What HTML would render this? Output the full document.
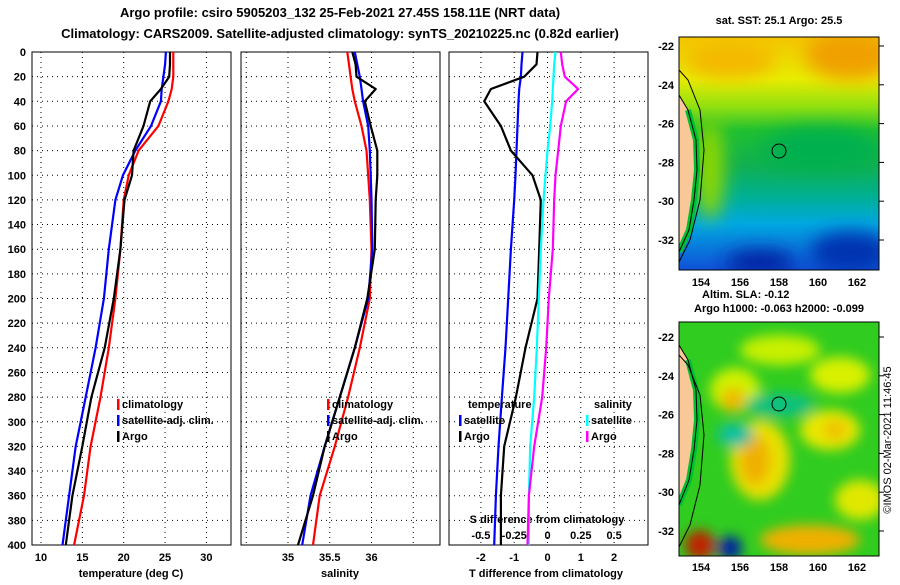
<!DOCTYPE html>
<html><head><meta charset="utf-8"><style>
body{margin:0;background:#fff;width:900px;height:580px;overflow:hidden}
svg text{font-family:"Liberation Sans",Arial,sans-serif;font-weight:bold;fill:#000}
</style></head><body>
<svg id="c" width="900" height="580" viewBox="0 0 900 580" xmlns="http://www.w3.org/2000/svg">
<defs>
<filter id="bl" x="-20%" y="-20%" width="140%" height="140%"><feGaussianBlur stdDeviation="9"/></filter>
<filter id="bl2" x="-20%" y="-20%" width="140%" height="140%"><feGaussianBlur stdDeviation="6"/></filter>
<clipPath id="m1"><rect x="679" y="37" width="200" height="233"/></clipPath>
<clipPath id="m2"><rect x="679" y="322" width="200" height="234"/></clipPath>
<linearGradient id="sst" x1="0" y1="0" x2="0" y2="1">
<stop offset="0" stop-color="#f4c400"/><stop offset="0.18" stop-color="#e8ec00"/><stop offset="0.3" stop-color="#90e010"/>
<stop offset="0.4" stop-color="#20c030"/><stop offset="0.55" stop-color="#10b050"/><stop offset="0.68" stop-color="#00b090"/><stop offset="0.8" stop-color="#00a8e0"/><stop offset="1" stop-color="#1050d8"/></linearGradient>
</defs>
<text x="340" y="17" font-size="13" text-anchor="middle">Argo profile: csiro 5905203_132 25-Feb-2021 27.45S 158.11E (NRT data)</text>
<text x="340" y="38" font-size="13" text-anchor="middle">Climatology: CARS2009. Satellite-adjusted climatology: synTS_20210225.nc (0.82d earlier)</text>
<g id="plots"></g>
<g>
<text x="779" y="24" font-size="11" text-anchor="middle">sat. SST: 25.1 Argo: 25.5</text>
<g clip-path="url(#m1)">
<rect x="679" y="37" width="200" height="233" fill="url(#sst)"/>
<g filter="url(#bl)">
<ellipse cx="850" cy="55" rx="45" ry="25" fill="#f0a000"/>
<ellipse cx="730" cy="60" rx="45" ry="18" fill="#f4b800"/>
<ellipse cx="710" cy="170" rx="14" ry="50" fill="#90d800"/>
<ellipse cx="760" cy="262" rx="35" ry="12" fill="#0020a0"/>
<ellipse cx="850" cy="252" rx="40" ry="20" fill="#0030b0"/>
<ellipse cx="820" cy="150" rx="60" ry="22" fill="#00b050"/>
</g>
<polygon points="679,95 688,110 696,140 697,170 694,200 689,230 679,252" fill="#f8c898"/>
<polyline points="688,110 696,140 697,170 694,200 689,230 679,252" fill="none" stroke="#00c030" stroke-width="6"/>
<polyline points="679,70 688,80 700,110 704,150 700,200 690,240 679,262" fill="none" stroke="#000" stroke-width="1"/>
<polyline points="679,95 688,110 696,140 697,170 694,200 689,230 679,252" fill="none" stroke="#000" stroke-width="1"/>
<circle cx="779" cy="151" r="7" fill="none" stroke="#000"/>
</g>
<rect x="679" y="37" width="200" height="233" fill="none" stroke="#000"/>
</g>
<g>
<text x="702" y="298" font-size="11">Altim. SLA: -0.12</text>
<text x="779" y="312" font-size="11" text-anchor="middle">Argo h1000: -0.063 h2000: -0.099</text>
<g clip-path="url(#m2)">
<rect x="679" y="322" width="200" height="234" fill="#30cc20"/>
<g filter="url(#bl2)">
<ellipse cx="780" cy="350" rx="40" ry="15" fill="#c8f000"/>
<ellipse cx="840" cy="375" rx="30" ry="18" fill="#d8f000"/>
<ellipse cx="735" cy="390" rx="25" ry="22" fill="#d0f000"/>
<ellipse cx="733" cy="400" rx="12" ry="12" fill="#f0b800"/>
<ellipse cx="760" cy="460" rx="30" ry="40" fill="#e8e000"/>
<ellipse cx="755" cy="460" rx="15" ry="25" fill="#f0b000"/>
<ellipse cx="830" cy="430" rx="30" ry="20" fill="#e8e800"/>
<ellipse cx="835" cy="430" rx="12" ry="10" fill="#f0c000"/>
<ellipse cx="780" cy="405" rx="35" ry="12" fill="#10c080"/>
<ellipse cx="735" cy="435" rx="18" ry="12" fill="#10c0a0"/>
<ellipse cx="810" cy="540" rx="50" ry="15" fill="#f0b000"/>
<ellipse cx="700" cy="545" rx="15" ry="15" fill="#c02000"/>
<ellipse cx="730" cy="548" rx="12" ry="12" fill="#0020a0"/>
<ellipse cx="860" cy="500" rx="25" ry="20" fill="#e0e800"/>
</g>
<polygon points="679,345 688,360 696,390 697,420 694,450 689,480 679,505" fill="#f8c898"/>
<polyline points="688,360 696,390 697,420 694,450 689,480 679,505" fill="none" stroke="#00c030" stroke-width="6"/>
<polyline points="679,355 688,365 700,395 704,435 700,485 690,525 679,547" fill="none" stroke="#000" stroke-width="1"/>
<polyline points="679,345 688,360 696,390 697,420 694,450 689,480 679,505" fill="none" stroke="#000" stroke-width="1"/>
<circle cx="779" cy="404" r="7" fill="none" stroke="#000"/>
</g>
<rect x="679" y="322" width="200" height="234" fill="none" stroke="#000"/>
</g>
<text transform="translate(891,440) rotate(-90)" font-size="11" text-anchor="middle" style="font-weight:normal">©IMOS 02-Mar-2021 11:46:45</text>
</svg>
<script>
const depths = [0,10,20,30,40,60,80,100,120,160,200,240,280,320,360,400];
const tClim = [26.0,26.0,26.0,25.8,25.4,24.2,21.8,20.6,20.0,19.6,19.0,18.2,17.2,16.0,15.2,14.0];
const tSat  = [25.1,25.0,24.8,24.6,24.5,23.3,21.4,19.9,19.0,18.2,17.6,16.6,15.4,14.2,13.4,12.6];
const tArgo = [25.6,25.6,25.5,24.5,23.2,22.4,21.2,21.0,20.1,19.6,18.8,17.7,16.1,15.0,13.8,13.0];
const sClim = [35.71,35.73,35.75,35.77,35.80,35.88,35.94,35.96,35.98,36.0,35.98,35.86,35.72,35.56,35.38,35.30];
const sSat  = [35.80,35.83,35.86,35.88,35.90,35.96,35.98,35.99,36.0,36.01,35.96,35.80,35.62,35.44,35.27,35.17];
const sArgo = [35.77,35.81,35.82,36.05,35.92,35.99,36.07,36.07,36.05,36.04,35.95,35.80,35.62,35.44,35.30,35.12];
const dtSat  = [-0.75,-0.78,-0.8,-0.85,-0.87,-0.9,-0.93,-0.96,-1.0,-1.1,-1.18,-1.26,-1.37,-1.47,-1.55,-1.6];
const dtArgo = [-0.3,-0.33,-0.7,-1.7,-1.9,-1.4,-1.1,-0.45,-0.2,-0.25,-0.3,-0.66,-0.95,-1.3,-1.4,-1.4];
const dsSat  = [0.06,0.05,0.045,0.04,0.035,0.02,0.0,-0.015,-0.03,-0.05,-0.065,-0.08,-0.1,-0.13,-0.14,-0.14];
const dsArgo = [0.1,0.11,0.13,0.23,0.14,0.1,0.08,0.06,0.05,0.04,0.01,-0.01,-0.04,-0.1,-0.14,-0.15];
const depthTicks = [0,20,40,60,80,100,120,140,160,180,200,220,240,260,280,300,320,340,360,380,400];
const tTicks = [10,15,20,25,30];
const sTicks = [35,35.5,36];
const dtTicks = [-2,-1,0,1,2];
const dsTicks = ["-0.5","-0.25","0","0.25","0.5"];
const latTicks=[-22,-24,-26,-28,-30,-32];
const lonTicks=[154,156,158,160,162];

const NS="http://www.w3.org/2000/svg";
const root=document.getElementById('plots');
const Y0=52,Y1=545;
const yS=d=>Y0+(d/400)*(Y1-Y0);
function el(tag,attrs,parent,txt){const e=document.createElementNS(NS,tag);for(const k in attrs)e.setAttribute(k,attrs[k]);if(txt!==undefined)e.textContent=txt;(parent||root).appendChild(e);return e;}
const xT=t=>41+(t-10)*8.27;
const xS=s=>288+(s-35)*83.5;
const xDT=t=>547.5+t*33.3;
const xDS=s=>547.5+s*133.2;
const panels=[{x:32,name:'temperature-panel'},{x:241,name:'salinity-panel'},{x:449,name:'difference-panel'}];
panels.forEach((p,i)=>{
  const g=el('g',{});
  
  
  depthTicks.forEach(d=>{
    if(d>0&&d<400){const l=el('line',{x1:p.x,x2:p.x+199,y1:yS(d),y2:yS(d),stroke:'#000','stroke-dasharray':'1,4'},g);
    
    }
  });
  const vx = i==0?tTicks.map(xT):i==1?[xS(34.5),...sTicks.map(xS),xS(36.5)]:dtTicks.map(xDT);
  vx.forEach(x=>{const l=el('line',{x1:x,x2:x,y1:Y0,y2:Y1,stroke:'#000','stroke-dasharray':'1,4'},g);
    
    });
  const r=el('rect',{x:p.x,y:Y0,width:199,height:Y1-Y0,fill:'none',stroke:'#000'},g);
  
  
});
depthTicks.forEach(d=>{const t=el('text',{x:26,y:yS(d)+4,'font-size':11,'text-anchor':'end'},root,String(d));
  
  });
tTicks.forEach(v=>{const t=el('text',{x:xT(v),y:561,'font-size':11,'text-anchor':'middle'},root,String(v));
  
  });
sTicks.forEach(v=>{const t=el('text',{x:xS(v),y:561,'font-size':11,'text-anchor':'middle'},root,String(v));
  
  });
dtTicks.forEach(v=>{const t=el('text',{x:xDT(v),y:561,'font-size':11,'text-anchor':'middle'},root,String(v));
  
  });
dsTicks.forEach(v=>{const t=el('text',{x:xDS(parseFloat(v)),y:539,'font-size':11,'text-anchor':'middle'},root,v);
  
  });
[[131,'temperature (deg C)','x-axis-title-temperature'],[340,'salinity','x-axis-title-salinity'],[546,'T difference from climatology','x-axis-title-t-diff']].forEach(a=>{
  const t=el('text',{x:a[0],y:577,'font-size':11,'text-anchor':'middle'},root,a[1]);
  
  });
const st=el('text',{x:547,y:523,'font-size':11,'text-anchor':'middle'},root,'S difference from climatology');



function line(vals,fx,color,name){
  const pts=vals.map((v,k)=>fx(v).toFixed(1)+','+yS(depths[k]).toFixed(1)).join(' ');
  const l=el('polyline',{points:pts,fill:'none',stroke:color,'stroke-width':2.2,'stroke-linejoin':'round'});
  
  
}
line(tClim,xT,'#ff0000','temperature-climatology-line');
line(tSat,xT,'#0000ff','temperature-satellite-line');
line(tArgo,xT,'#000000','temperature-argo-line');
line(sClim,xS,'#ff0000','salinity-climatology-line');
line(sSat,xS,'#0000ff','salinity-satellite-line');
line(sArgo,xS,'#000000','salinity-argo-line');
line(dtSat,xDT,'#0000ff','t-diff-satellite-line');
line(dtArgo,xDT,'#000000','t-diff-argo-line');
line(dsSat,xDS,'#00ffff','s-diff-satellite-line');
line(dsArgo,xDS,'#ff00ff','s-diff-argo-line');

function legend(x,y,color,label){
  if(color){const b=el('rect',{x:x,y:y-9,width:2.5,height:11,fill:color});
    
    }
  const t=el('text',{x:x+(color?5:0),y:y,'font-size':11},root,label);
  
  
}
legend(117,408,'#ff0000','climatology');legend(117,424,'#0000ff','satellite-adj. clim.');legend(117,440,'#000','Argo');
legend(327,408,'#ff0000','climatology');legend(327,424,'#0000ff','satellite-adj. clim.');legend(327,440,'#000','Argo');
legend(468,408,null,'temperature');legend(459,424,'#0000ff','satellite');legend(459,440,'#000','Argo');
legend(594,408,null,'salinity');legend(586,424,'#00ffff','satellite');legend(586,440,'#ff00ff','Argo');

const latY1=l=>46+(-22-l)*19.4, latY2=l=>337+(-22-l)*19.4, lonX=l=>701+(l-154)*19.5;
latTicks.forEach(l=>{
  [latY1(l),latY2(l)].forEach(y=>{
    const t=el('text',{x:674,y:y+4,'font-size':11,'text-anchor':'end'},root,String(l));
    
    
    el('line',{x1:879,x2:884,y1:y,y2:y,stroke:'#000'});
  });
});
lonTicks.forEach(l=>{
  [286,571].forEach(y=>{
    const t=el('text',{x:lonX(l),y:y,'font-size':11,'text-anchor':'middle'},root,String(l));
    
    
  });
});
</script>
</body></html>
